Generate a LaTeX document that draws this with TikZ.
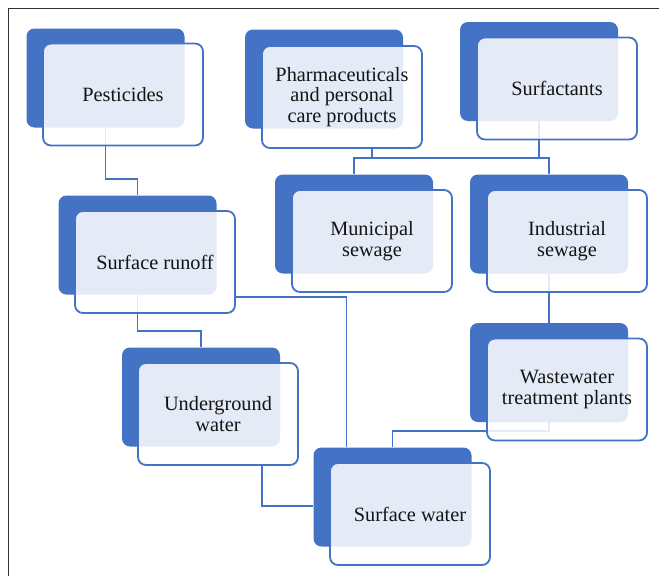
\documentclass[tikz,border=0pt]{standalone}
\usepackage{fontspec}
\setmainfont{Liberation Serif}
\usepackage{tikz}
\usetikzlibrary{calc,positioning,backgrounds}
\definecolor{blueD}{HTML}{4472C4}
\definecolor{inkT}{HTML}{141414}
\tikzset{
  backbox/.style={rectangle,rounded corners=8pt,fill=blueD,
    minimum width=158pt,minimum height=99pt,inner sep=0pt},
  frontbox/.style={rectangle,rounded corners=8pt,draw=blueD,line width=1.8pt,
    fill=white,fill opacity=0.86,text opacity=1,text=inkT,align=center,
    minimum width=160pt,minimum height=102pt,inner sep=2pt,
    font=\rmfamily\fontsize{20.3}{20.5}\selectfont},
  link/.style={draw=blueD,line width=1.8pt},
  frame/.style={draw=black!80,line width=1.6pt}
}

\begin{document}
\begin{tikzpicture}[x=1pt,y=-1pt,line join=round]
  % Window
  \useasboundingbox (0,0) rectangle (659,576);
  \draw[frame] (659,8.5) -- (8.5,8.5) -- (8.5,576);

  % Front boxes (text)
  \node[frontbox] (pest)   at (123,94.5) {Pesticides};
  \node[frontbox] (pharma) at (342,97)   {Pharmaceuticals\\and personal\\care products};
  \node[frontbox] (surf)   at (557,88.5) {Surfactants};
  \node[frontbox] (run)    at (155,262)  {Surface runoff};
  \node[frontbox] (mun)    at (372,241)  {Municipal\\sewage};
  \node[frontbox] (ind)    at (567,241)  {Industrial\\sewage};
  \node[frontbox] (under)  at (218,414)  {Underground\\water};
  \node[frontbox] (wwtp)   at (567,389.5){Wastewater\\treatment plants};
  \node[frontbox] (sw)     at (410,514)  {Surface water};

  \begin{pgfonlayer}{background}
    % Back boxes
    \node[backbox] (pestB)   at (105.5,78)  {};
    \node[backbox] (pharmaB) at (324,79)    {};
    \node[backbox] (surfB)   at (539,71.5)  {};
    \node[backbox] (runB)    at (137.5,245) {};
    \node[backbox] (munB)    at (354,224)   {};
    \node[backbox] (indB)    at (549,224)   {};
    \node[backbox] (underB)  at (201,397)   {};
    \node[backbox] (wwtpB)   at (549,372.5) {};
    \node[backbox] (swB)     at (392.5,497) {};

    % Connectors
    \coordinate (bus) at (0,158);
    \draw[link] ([xshift=30pt]pharma.south) -- ([xshift=30pt]pharma.south |- bus);
    \draw[link] (surfB.south) -- (surfB.south |- bus);
    \draw[link] (munB.north) -- (munB.north |- bus) -- (indB.north |- bus) -- (indB.north);
    \draw[link] (pestB.south) -- ++(0,51) -| (runB.north);
    \draw[link] (runB.south) -- ++(0,36) -| (underB.north);
    \draw[link] ([yshift=-35pt]run.east) -| ([xshift=-46pt]swB.north);
    \draw[link] ([xshift=44pt]under.south) |- ([yshift=-9pt]swB.west);
    \draw[link] (indB.south) -- (wwtpB.north);
    \draw[link] (wwtpB.south) -- ++(0,9) -| (swB.north);
  \end{pgfonlayer}
\end{tikzpicture}
\end{document}
